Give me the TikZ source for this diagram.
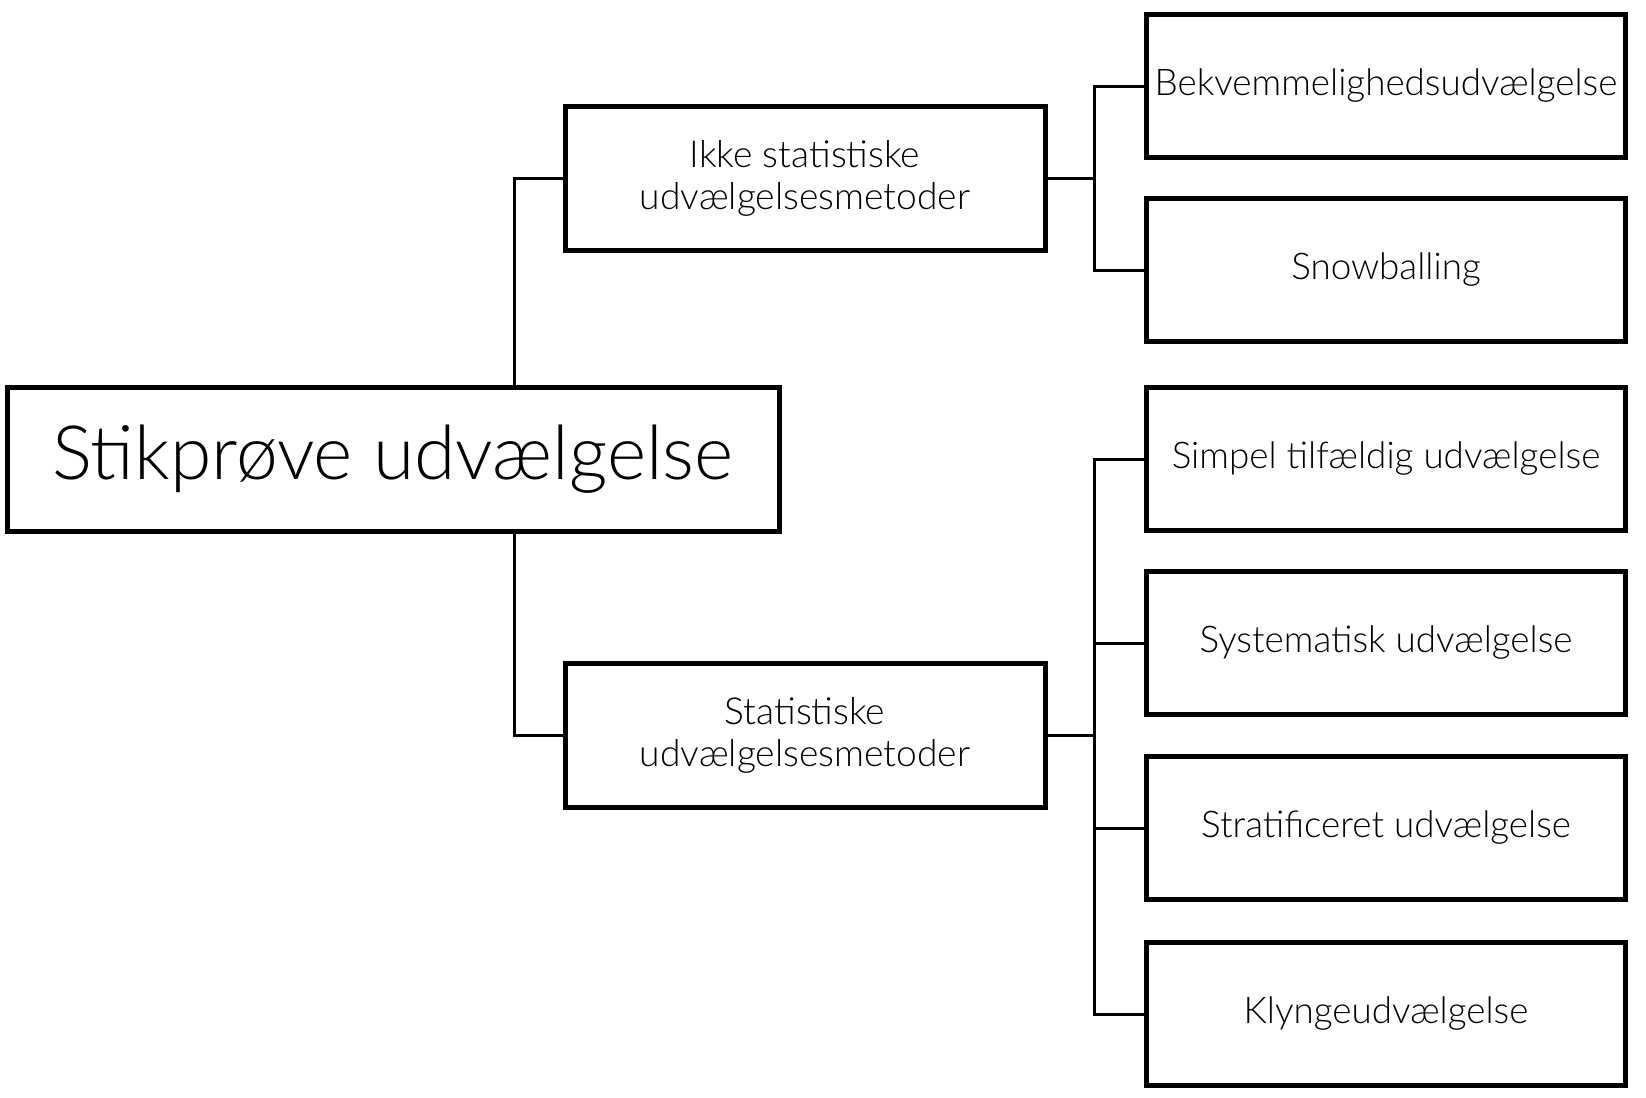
\documentclass[tikz,border=0pt]{standalone}
\usepackage{fontspec}
\setmainfont{Lato Light}
\usetikzlibrary{positioning}

\tikzset{
  box/.style={draw, line width=2.5pt, align=center, inner sep=0pt},
  rootbox/.style={box, minimum width=386pt, minimum height=72pt, font=\fontsize{37.5}{40}\selectfont},
  groupbox/.style={box, minimum width=240pt, minimum height=72pt, font=\fontsize{18.6}{21}\selectfont},
  leafbox/.style={box, minimum width=239.5pt, minimum height=71.5pt, font=\fontsize{18.4}{21}\selectfont},
  conn/.style={line width=1.5pt}
}

\begin{document}
\begin{tikzpicture}[x=0.5pt, y=-0.5pt]
                \useasboundingbox (0,0) rectangle (1646,1098);

                % Root box
                \node[rootbox] (root) at (393,459) {Stikprøve udvælgelse};

                % Group boxes
                \node[groupbox] (ikke) at (805,178) {Ikke statistiske\\udvælgelsesmetoder};
                \node[groupbox] (stat) at (805,735) {Statistiske\\udvælgelsesmetoder};

                % Leaf boxes
                \node[leafbox] (bekv) at (1386,86) {Bekvemmelighedsudvælgelse};
                \node[leafbox] (snow) at (1386,270) {Snowballing};
                \node[leafbox] (simpel) at (1386,459) {Simpel tilfældig udvælgelse};
                \node[leafbox] (syst) at (1386,643) {Systematisk udvælgelse};
                \node[leafbox] (strat) at (1386,828) {Stratificeret udvælgelse};
                \node[leafbox] (klynge) at (1386,1014) {Klyngeudvælgelse};

                % Bus lines
                \coordinate (trunk) at (514,0);
                \coordinate (busA) at (1094,0);
                \coordinate (busB) at (1094,0);

                % Root to groups
                \draw[conn] (trunk |- root.north) |- (ikke.west);
                \draw[conn] (trunk |- root.south) |- (stat.west);

                % Ikke statistiske to leaves
                \draw[conn] (ikke.east) -| (busA |- bekv.west) -- (bekv.west);
                \draw[conn] (ikke.east -| busA) |- (snow.west);

                % Statistiske to leaves
                \draw[conn] (stat.east) -| (busB |- simpel.west) -- (simpel.west);
                \draw[conn] (stat.east -| busB) |- (klynge.west);
                \draw[conn] (busB |- syst.west) -- (syst.west);
                \draw[conn] (busB |- strat.west) -- (strat.west);
            \end{tikzpicture}
\end{document}
